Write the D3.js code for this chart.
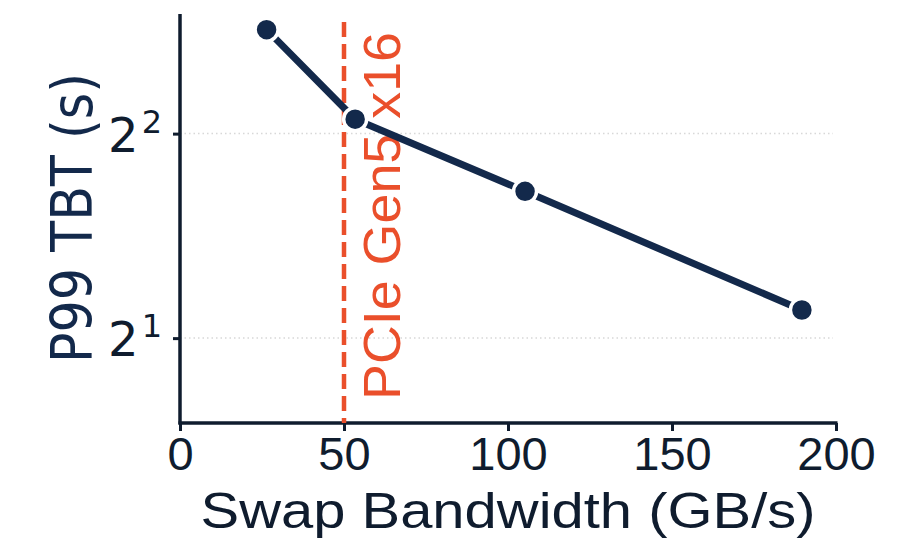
<!DOCTYPE html>
<html>
<head>
<meta charset="utf-8">
<script src="https://cdn.jsdelivr.net/npm/d3@7"></script>
<style>
  html, body { margin: 0; padding: 0; background: #fff; }
  svg { display: block; }
</style>
</head>
<body>
<svg id="chart" width="914" height="543"></svg>
<script>
// Swap bandwidth vs. P99 time-between-tokens
const bandwidth = [26.4, 53.4, 105.2, 189.6];   // GB/s
const p99TBT = [5.69, 4.20, 3.29, 2.20];         // seconds
const xTicks = [0, 50, 100, 150, 200];
const yTickExps = [1, 2];                        // ticks at 2^1, 2^2
const pcieBandwidth = 50;                        // PCIe Gen5 x16
const pcieLabel = "PCIe Gen5 x16";
const xTitle = "Swap Bandwidth (GB/s)";
const yTitle = "P99 TBT (s)";

const navy = "#13294b";
const ink = "#0f1c2e";
const orange = "#ea4f2b";

const svg = d3.select("#chart");

const x = d3.scaleLinear().domain([0, 200]).range([180, 836]);
const y = d3.scaleLog().base(2).domain([1.5, 6]).range([423, 14]);

// dotted gridlines at the labelled powers of two
svg.append("g")
  .selectAll("line")
  .data(yTickExps)
  .join("line")
  .attr("x1", x(0)).attr("x2", x(200) - 3)
  .attr("y1", d => y(2 ** d)).attr("y2", d => y(2 ** d))
  .attr("stroke", "#d8d8d8")
  .attr("stroke-width", 1.5)
  .attr("stroke-dasharray", "1.5,3");

// x axis
const xAxis = svg.append("g")
  .attr("transform", `translate(0,${y(1.5)})`)
  .call(d3.axisBottom(x).tickValues(xTicks).tickFormat(d3.format("d")).tickSize(8).tickSizeOuter(0));
xAxis.select(".domain").attr("stroke", ink).attr("stroke-width", 3.5)
  .attr("d", `M${x(0) - 1.5},0H${x(200) + 1.5}`);
xAxis.selectAll(".tick line").attr("stroke", ink).attr("stroke-width", 3);
xAxis.selectAll(".tick text")
  .attr("fill", ink)
  .attr("font-family", "Liberation Sans, Arial, sans-serif")
  .attr("font-size", 47)
  .attr("dy", "0.74em")
  .attr("y", 12);

// y axis
const yAxis = svg.append("g")
  .attr("transform", `translate(${x(0)},0)`)
  .call(d3.axisLeft(y).tickValues(yTickExps.map(e => 2 ** e)).tickFormat("").tickSize(7).tickSizeOuter(0));
yAxis.select(".domain").attr("stroke", ink).attr("stroke-width", 3.5)
  .attr("d", `M0,${y(6)}V${y(1.5) + 1.5}`);
yAxis.selectAll(".tick line").attr("stroke", ink).attr("stroke-width", 3);

// power-of-two tick labels
const yLab = svg.append("g")
  .selectAll("text")
  .data(yTickExps)
  .join("text")
  .attr("x", 162)
  .attr("y", d => y(2 ** d) + 18)
  .attr("text-anchor", "end")
  .attr("fill", ink)
  .attr("font-family", "DejaVu Sans, sans-serif");
yLab.append("tspan").attr("font-size", 48).text("2");
yLab.append("tspan").attr("font-size", 32).attr("dy", -19).attr("dx", 3).text(d => d);

// PCIe reference line
svg.append("line")
  .attr("x1", x(pcieBandwidth)).attr("x2", x(pcieBandwidth))
  .attr("y1", 22).attr("y2", y(1.5))
  .attr("stroke", orange)
  .attr("stroke-width", 4.5)
  .attr("stroke-dasharray", "15,7");

svg.append("text")
  .attr("transform", `translate(${x(pcieBandwidth) + 56},400) rotate(-90)`)
  .attr("fill", orange)
  .attr("font-family", "Liberation Sans, Arial, sans-serif")
  .attr("font-size", 52)
  .attr("textLength", 368)
  .attr("lengthAdjust", "spacingAndGlyphs")
  .text(pcieLabel);

// series line + markers
const pts = bandwidth.map((b, i) => [b, p99TBT[i]]);
svg.append("path")
  .datum(pts)
  .attr("fill", "none")
  .attr("stroke", navy)
  .attr("stroke-width", 7)
  .attr("stroke-linejoin", "round")
  .attr("d", d3.line().x(d => x(d[0])).y(d => y(d[1])));

svg.append("g")
  .selectAll("circle")
  .data(pts)
  .join("circle")
  .attr("cx", d => x(d[0]))
  .attr("cy", d => y(d[1]))
  .attr("r", 11.5)
  .attr("fill", navy)
  .attr("stroke", "#fff")
  .attr("stroke-width", 3.5);

// axis titles
svg.append("text")
  .attr("x", (x(0) + x(200)) / 2 + 0)
  .attr("y", 528)
  .attr("text-anchor", "middle")
  .attr("fill", ink)
  .attr("font-family", "Liberation Sans, Arial, sans-serif")
  .attr("font-size", 50)
  .attr("textLength", 615)
  .attr("lengthAdjust", "spacingAndGlyphs")
  .text(xTitle);

svg.append("text")
  .attr("transform", `translate(92,218) rotate(-90)`)
  .attr("text-anchor", "middle")
  .attr("fill", navy)
  .attr("font-family", "DejaVu Sans, sans-serif")
  .attr("font-size", 57)
  .attr("textLength", 290)
  .attr("lengthAdjust", "spacingAndGlyphs")
  .text(yTitle);
</script>
</body>
</html>
